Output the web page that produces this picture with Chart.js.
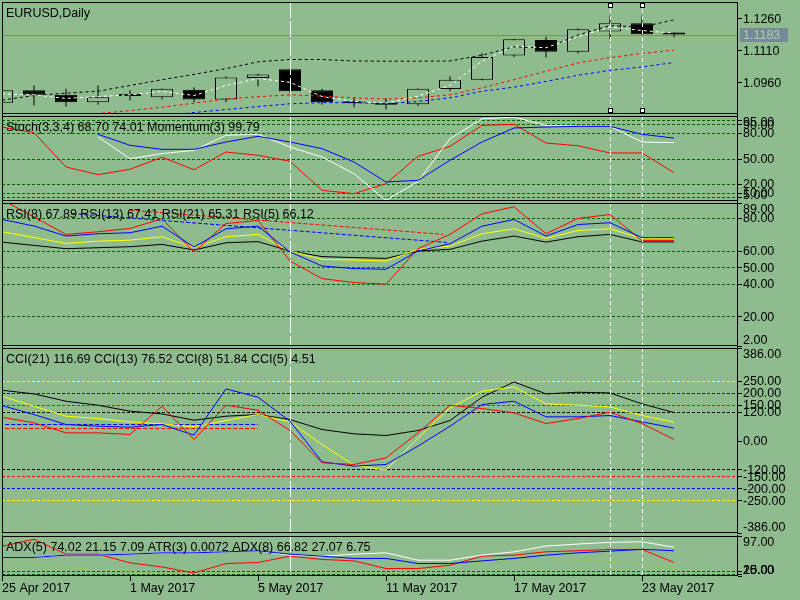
<!DOCTYPE html>
<html>
<head>
<meta charset="utf-8">
<title>EURUSD,Daily</title>
<script src="https://cdn.jsdelivr.net/npm/chart.js@4.4.1/dist/chart.umd.min.js"></script>
<style>
  html, body { margin: 0; padding: 0; background: #8fbc8f; }
  #wrap { position: relative; width: 800px; height: 600px; overflow: hidden; }
  #wrap canvas { position: absolute; left: 0; }
</style>
</head>
<body>
<div id="wrap">
  <canvas id="price" width="800" height="115" style="top:0px"></canvas>
  <canvas id="stoch" width="800" height="87" style="top:115px"></canvas>
  <canvas id="rsi" width="800" height="145" style="top:202px"></canvas>
  <canvas id="cci" width="800" height="187" style="top:347px"></canvas>
  <canvas id="adx" width="800" height="65" style="top:535px"></canvas>
</div>
<script>
// ---- data (one entry per daily bar) ----
var barDates = ['25 Apr 2017', '26 Apr 2017', '27 Apr 2017', '28 Apr 2017', '1 May 2017', '2 May 2017',
  '3 May 2017', '4 May 2017', '5 May 2017', '8 May 2017', '9 May 2017', '10 May 2017', '11 May 2017',
  '12 May 2017', '15 May 2017', '16 May 2017', '17 May 2017', '18 May 2017', '19 May 2017',
  '22 May 2017', '23 May 2017', '24 May 2017'];
var dateTicks = [0, 4, 8, 12, 16, 20];

var priceOpen  = [1.0863, 1.0921, 1.0900, 1.0865, 1.0905, 1.0889, 1.0924, 1.0878, 1.0979, 1.1020, 1.0921,
                  1.0870, 1.0861, 1.0856, 1.0927, 1.0971, 1.1085, 1.1157, 1.1102, 1.1197, 1.1236, 1.1185];
var priceHigh  = [1.0925, 1.0944, 1.0929, 1.0944, 1.0921, 1.0930, 1.0936, 1.0987, 1.0999, 1.1022, 1.0929,
                  1.0889, 1.0884, 1.0930, 1.0987, 1.1097, 1.1162, 1.1173, 1.1213, 1.1271, 1.1271, 1.1194];
var priceLow   = [1.0858, 1.0850, 1.0845, 1.0853, 1.0873, 1.0878, 1.0865, 1.0865, 1.0940, 1.0908, 1.0854,
                  1.0842, 1.0831, 1.0848, 1.0917, 1.0969, 1.1078, 1.1075, 1.1094, 1.1161, 1.1182, 1.1170];
var priceClose = [1.0921, 1.0900, 1.0865, 1.0889, 1.0894, 1.0929, 1.0878, 1.0981, 1.0996, 1.0917, 1.0865,
                  1.0861, 1.0853, 1.0929, 1.0971, 1.1078, 1.1161, 1.1102, 1.1208, 1.1236, 1.1184, 1.1183];

var maBlack = [1.0875, 1.0897, 1.0908, 1.0917, 1.0944, 1.0971, 1.0996, 1.1023, 1.1055, 1.1066, 1.1066,
               1.1059, 1.1058, 1.1058, 1.1059, 1.1086, 1.1126, 1.1119, 1.1181, 1.1225, 1.1219, 1.1252];
var maWhite = [1.0904, 1.0900, 1.0883, 1.0892, 1.0900, 1.0916, 1.0897, 1.0944, 1.0976, 1.0959, 1.0892,
               1.0869, 1.0861, 1.0894, 1.0944, 1.1058, 1.1129, 1.1121, 1.1173, 1.1219, 1.1202, 1.1190];
var maRed   = [null, null, 1.0800, 1.0812, 1.0826, 1.0842, 1.0861, 1.0880, 1.0891, 1.0900, 1.0894,
               1.0886, 1.0880, 1.0886, 1.0900, 1.0933, 1.0971, 1.1011, 1.1050, 1.1075, 1.1094, 1.1110];
var maBlue  = [null, null, null, null, null, 1.0800, 1.0817, 1.0831, 1.0845, 1.0858, 1.0863,
               1.0863, 1.0858, 1.0869, 1.0886, 1.0917, 1.0936, 1.0963, 1.0992, 1.1015, 1.1031, 1.1052];

var stochMain   = [null, null, null, 75.3, 49.8, 55.7, 59.6, 77.3, 78.5, 63.5, 51.8, 32.1, 0.8, 23,
                   73.3, 96.8, 98.8, 89, 88, 87.8, 69.4, 68.70];
var stochSignal = [null, null, null, 78.5, 65.5, 60.8, 60.8, 69.4, 76.1, 69.4, 61.6, 45.9, 22.4, 24.3,
                   47.9, 69.4, 85.9, 87, 87.8, 87.8, 78.5, 74.01];
var momentum    = [87, 80.4, 40, 31, 37.3, 51.4, 36.8, 57.6, 53.8, 46.7, 12.6, 8.6, 20.4, 52.6,
                   64.3, 89, 90.2, 68.2, 65, 56.5, 56.5, 33.3];

var rsi5  = [91, 80.5, 69.9, 71.5, 73.5, 79.4, 59.2, 76.5, 78.4, 53.7, 43, 40.6, 39.6, 61.2, 69.9,
             82.4, 86.7, 70.3, 79.6, 82, 66.12, 66.12];
var rsi8  = [79, 75, 68.9, 70.3, 70.9, 74.9, 62.2, 73.3, 74.9, 59.2, 50.7, 49.1, 48.7, 59.8, 64.2,
             74.9, 79, 68.9, 75.9, 77, 67.89, 67.89];
var rsi13 = [71.5, 68, 64.4, 65.8, 66.4, 68.5, 61.8, 68.5, 69.9, 59.8, 54.7, 54.3, 53.7, 60.8, 62.8,
             70.3, 73.3, 67.5, 72.3, 73.3, 67.41, 67.41];
var rsi21 = [65.2, 63.2, 61.2, 61.8, 62.4, 63.8, 60.4, 64.8, 65.5, 59.8, 56.4, 55.8, 55.3, 59.8, 60.8,
             65.8, 68.9, 65.2, 68.5, 69.9, 65.31, 65.31];
var rsiTrendRed  = [[4, 84.6], [13.8, 69.9]];
var rsiTrendBlue = [[2.2, 82.6], [13.9, 65]];

var cci21 = [209.7, 194.4, 163.9, 147.2, 122.2, 111, 84.7, 101.4, 108.3, 87.5, 45.8, 27.8, 20.8, 41.7,
             83.3, 180.6, 244.4, 194.4, 201.4, 198.6, 152.8, 116.69];
var cci13 = [184.7, 143, 101.4, 91.7, 77.8, 69.4, 56.9, 83.3, 108.3, 77.8, -16.7, -102.8, -123.6, 10,
             136, 205.6, 223.6, 152.8, 147.2, 140.3, 104.2, 76.52];
var cci8  = [145.8, 108.3, 66.7, 59.7, 55.6, 66.7, 22.2, 215.3, 180.6, 80.6, -88.9, -106.9, -100, -23.6,
             59.7, 150, 163.9, 98.6, 98.6, 104.2, 77.8, 51.84];
var cci5  = [97.2, 73.7, 31.9, 31.9, 25, 143, 4.2, 147.2, 126.4, 41.7, -93, -100, -72.2, 31.9,
             147.2, 133.3, 115.3, 70.8, 91.7, 118, 70.8, 4.51];
var cciMarkBlue = [[0.1, 66.7], [8, 66.7]];
var cciMarkRed  = [[0.1, 50], [8, 50]];

var adxFast  = [53, 53, 57.8, 57.8, 59.8, 62.5, 62.5, 64.6, 66.7, 57.8, 55.7, 59.8, 62.5, 47.4, 47.4,
                57.8, 64.6, 76.4, 80.5, 84, 85.2, 74.02];
var adxSlow  = [53, 53, 57.8, 57.8, 59.8, 62.5, 62.5, 64.6, 66.7, 59.8, 55.7, 51, 51, 40.6, 40.6,
                46, 51, 57.8, 62.5, 66, 69.5, 66.82];
var adxRed   = [76, 90.2, 59.8, 59.8, 41.9, 33.6, 21.2, 40.6, 42.7, 55.7, 48.9, 46, 30.3, 30.3, 37.1,
                55.7, 57.8, 64.6, 66.7, 69.5, 69.5, 42.7];
var atrLine  = [43.9, 38, 33, 28, 25, 22, 21, 21, 21, 20.5, 20.5, 20.5, 20.5, 27, 37, 43.9, 47.4,
                48.9, 47.4, 45.4, 39.2, 30.3];

var priceTicks = [1.1260, 1.1110, 1.0960];
var stochLevels = [95, 90, 80, 50, 20, 10, 5];
var rsiLevels = [80, 60, 50, 40, 20];
var rsiTicks = [89, 80, 60, 50, 40, 20, 2];
var cciLevels = [250, 200, 150, 120, -120, -150, -200, -250];
var cciTicks = [386, 250, 200, 150, 120, 0, -120, -150, -200, -250, -386];
var adxLevels = [25, 20];
var adxTicks = [97, 25, 20, 15];

var vlineBars = [9, 19, 20];
var handleBars = [19, 20];

// ---- drawing ----
var BG = '#8fbc8f';
var FONT = '12.5px "Liberation Sans"';
Chart.defaults.font.family = 'Liberation Sans';
Chart.defaults.font.size = 12.5;
Chart.defaults.color = '#000';

function pts(arr) { return arr.map(function (v, i) { return { x: i, y: v }; }); }
function seg(arr) { return arr.map(function (p) { return { x: p[0], y: p[1] }; }); }

function line(data, color, dash, order) {
  return {
    type: 'line', data: data, borderColor: color, borderWidth: 1, borderDash: dash || [],
    pointRadius: 0, pointHoverRadius: 0, tension: 0, fill: false, spanGaps: false, order: order || 1
  };
}

// window furniture: levels, object lines, frame, price scale labels, caption
function panel(cfg) {
  return {
    id: 'panel_' + cfg.name,
    beforeDatasetsDraw: function (chart) {
      var ctx = chart.ctx, a = chart.chartArea, ys = chart.scales.y;
      ctx.save();
      ctx.lineWidth = 1;
      ctx.setLineDash([3, 2]);
      (cfg.levels || []).forEach(function (v, i) {
        var py = Math.round(ys.getPixelForValue(v)) + 0.5;
        ctx.strokeStyle = cfg.levelColors ? cfg.levelColors[i] : '#006400';
        ctx.beginPath(); ctx.moveTo(a.left, py); ctx.lineTo(a.right, py); ctx.stroke();
      });
      if (cfg.bid != null) {
        ctx.setLineDash([]);
        ctx.strokeStyle = '#778899';
        var by = Math.round(ys.getPixelForValue(cfg.bid)) + 0.5;
        ctx.beginPath(); ctx.moveTo(a.left, by); ctx.lineTo(a.right, by); ctx.stroke();
      }
      ctx.restore();
    },
    afterDatasetsDraw: function (chart) {
      var ctx = chart.ctx, a = chart.chartArea, xs = chart.scales.x;
      ctx.save();
      ctx.strokeStyle = '#fff';
      ctx.lineWidth = 1;
      vlineBars.forEach(function (k, i) {
        var px = Math.round(xs.getPixelForValue(k)) + 0.5;
        ctx.setLineDash(i === 0 ? [16, 3] : [4, 3]);
        ctx.beginPath(); ctx.moveTo(px, a.top); ctx.lineTo(px, a.bottom); ctx.stroke();
      });
      if (cfg.handles) {
        handleBars.forEach(function (k) {
          var px = Math.round(xs.getPixelForValue(k));
          [a.top + 3, a.bottom - 4].forEach(function (hy) {
            ctx.fillStyle = '#000'; ctx.fillRect(px - 2, hy - 2, 5, 5);
            ctx.fillStyle = '#fff'; ctx.fillRect(px - 1, hy - 1, 3, 3);
          });
        });
      }
      ctx.restore();
    },
    afterDraw: function (chart) {
      var ctx = chart.ctx, a = chart.chartArea, ys = chart.scales.y;
      ctx.save();
      ctx.setLineDash([]);
      ctx.strokeStyle = '#000';
      ctx.lineWidth = 1;
      ctx.strokeRect(a.left + 0.5, a.top + 0.5, a.right - a.left - 1, a.bottom - a.top - 1);
      // side lines run on through the gap between windows
      var y0 = cfg.first ? a.top : 0, y1 = cfg.last ? a.bottom : chart.height;
      ctx.beginPath();
      ctx.moveTo(a.left + 0.5, y0); ctx.lineTo(a.left + 0.5, y1);
      ctx.moveTo(a.right - 0.5, y0); ctx.lineTo(a.right - 0.5, y1);
      ctx.stroke();

      ctx.font = FONT;
      ctx.fillStyle = '#000';
      ctx.textAlign = 'left';
      ctx.textBaseline = 'middle';
      cfg.labels.forEach(function (v) {
        var py = ys.getPixelForValue(v);
        var ty = Math.min(Math.max(py, a.top + 6), a.bottom - 6);
        var tk = Math.round(py) + 0.5;
        ctx.beginPath(); ctx.moveTo(a.right, tk); ctx.lineTo(a.right + 4, tk); ctx.stroke();
        ctx.fillText(v.toFixed(cfg.digits), a.right + 5, ty + 1);
      });
      if (cfg.bid != null) {
        var by = ys.getPixelForValue(cfg.bid);
        ctx.fillStyle = '#778899';
        ctx.fillRect(a.right + 2, Math.round(by) - 7, 48, 14);
        ctx.fillStyle = '#a6d3a6';
        ctx.fillText(cfg.bid.toFixed(cfg.digits), a.right + 5, by + 1);
      }
      ctx.fillStyle = '#000';
      ctx.textBaseline = 'alphabetic';
      ctx.fillText(cfg.title, a.left + 4, a.top + 15);
      ctx.restore();
    }
  };
}

function options(ymin, ymax, padTop, padBottom, withDates) {
  var xAxis = { type: 'linear', min: 0, max: 23, offset: false, display: false };
  if (withDates) {
    xAxis = {
      type: 'linear', min: 0, max: 23, offset: false, display: true, position: 'bottom',
      grid: { drawOnChartArea: false, drawTicks: true, tickLength: 5, color: '#000', tickColor: '#000', lineWidth: 1 },
      border: { display: false },
      ticks: {
        align: 'start', padding: 0, color: '#000', font: { family: 'Liberation Sans', size: 12.5 },
        maxRotation: 0, autoSkip: false,
        callback: function (v) { return barDates[v]; }
      },
      afterBuildTicks: function (s) { s.ticks = dateTicks.map(function (v) { return { value: v }; }); },
      afterFit: function (s) { s.height = 24; s.paddingLeft = 0; s.paddingRight = 0; }
    };
  }
  return {
    responsive: false,
    animation: false,
    devicePixelRatio: 1,
    events: [],
    layout: { padding: { left: 2, right: 0, top: padTop, bottom: padBottom } },
    plugins: { legend: { display: false }, tooltip: { enabled: false } },
    scales: {
      x: xAxis,
      y: {
        type: 'linear', position: 'right', min: ymin, max: ymax,
        ticks: { display: false }, grid: { display: false }, border: { display: false },
        afterFit: function (s) { s.width = 62; s.paddingTop = 0; s.paddingBottom = 0; }
      }
    }
  };
}

// price window
var bodyData = priceOpen.map(function (o, i) { return { x: i, y: [o, priceClose[i]] }; });
var wickData = priceLow.map(function (l, i) { return { x: i, y: [l, priceHigh[i]] }; });
var bodyFill = priceOpen.map(function (o, i) { return priceClose[i] >= o ? BG : '#000'; });

new Chart(document.getElementById('price'), {
  type: 'line',
  data: {
    datasets: [
      { type: 'bar', data: wickData, backgroundColor: '#000', borderWidth: 0, maxBarThickness: 1,
        grouped: false, inflateAmount: 0, order: 10 },
      { type: 'bar', data: bodyData, backgroundColor: bodyFill, borderColor: '#000', borderWidth: 1,
        borderSkipped: false, maxBarThickness: 22, minBarLength: 2, grouped: false, inflateAmount: 0, order: 9 },
      line(pts(maBlue), '#0000ff', [3, 3], 4),
      line(pts(maRed), '#ff0000', [3, 3], 4),
      line(pts(maBlack), '#000000', [3, 3], 3),
      line(pts(maWhite), '#ffffff', [3, 3], 2)
    ]
  },
  options: options(1.0810, 1.1336, 2, 1, false),
  plugins: [panel({ name: 'price', title: 'EURUSD,Daily', labels: priceTicks, digits: 4,
                    bid: priceClose[priceClose.length - 1], handles: true, first: true })]
});

// stochastic / momentum
new Chart(document.getElementById('stoch'), {
  type: 'line',
  data: {
    datasets: [
      line(pts(momentum), '#ff0000', [], 3),
      line(pts(stochMain), '#ffffff', [], 2),
      line(pts(stochSignal), '#0000ff', [], 1)
    ]
  },
  options: options(0, 100, 1, 1, false),
  plugins: [panel({ name: 'stoch', title: 'Stoch(3,3,4) 68.70 74.01 Momentum(3) 99.79',
                    labels: stochLevels, levels: stochLevels, digits: 2 })]
});

// RSI
new Chart(document.getElementById('rsi'), {
  type: 'line',
  data: {
    datasets: [
      line(seg(rsiTrendRed), '#ff0000', [4, 2], 6),
      line(seg(rsiTrendBlue), '#0000ff', [4, 2], 6),
      line(pts(rsi21), '#000000', [], 4),
      line(pts(rsi13), '#ffff00', [], 3),
      line(pts(rsi5), '#ff0000', [], 2),
      line(pts(rsi8), '#0000ff', [], 1)
    ]
  },
  options: options(2, 89, 1, 1, false),
  plugins: [panel({ name: 'rsi', title: 'RSI(8) 67.89 RSI(13) 67.41 RSI(21) 65.31 RSI(5) 66.12',
                    labels: rsiTicks, levels: rsiLevels, digits: 2 })]
});

// CCI
new Chart(document.getElementById('cci'), {
  type: 'line',
  data: {
    datasets: [
      line(seg(cciMarkBlue), '#0000ff', [4, 2], 6),
      line(seg(cciMarkRed), '#ff0000', [4, 2], 6),
      line(pts(cci21), '#000000', [], 4),
      line(pts(cci13), '#ffff00', [], 3),
      line(pts(cci8), '#0000ff', [], 2),
      line(pts(cci5), '#ff0000', [], 1)
    ]
  },
  options: options(-386, 386, 1, 1, false),
  plugins: [panel({ name: 'cci', title: 'CCI(21) 116.69 CCI(13) 76.52 CCI(8) 51.84 CCI(5) 4.51',
                    labels: cciTicks, levels: cciLevels, digits: 2,
                    levelColors: ['#ffff00', '#0000ff', '#ff0000', '#000000', '#000000', '#ff0000', '#0000ff', '#ffff00'] })]
});

// ADX / ATR
new Chart(document.getElementById('adx'), {
  type: 'line',
  data: {
    datasets: [
      line(pts(atrLine), '#9acd32', [3, 3], 5),
      line(pts(adxRed), '#ff0000', [], 4),
      line(pts(adxFast), '#ffffff', [], 3),
      line(pts(adxSlow), '#0000ff', [], 2)
    ]
  },
  options: options(15, 97, 1, 0, true),
  plugins: [panel({ name: 'adx', title: 'ADX(5) 74.02 21.15 7.09 ATR(3) 0.0072 ADX(8) 66.82 27.07 6.75',
                    labels: adxTicks, levels: adxLevels, digits: 2, last: true })]
});
</script>
</body>
</html>
